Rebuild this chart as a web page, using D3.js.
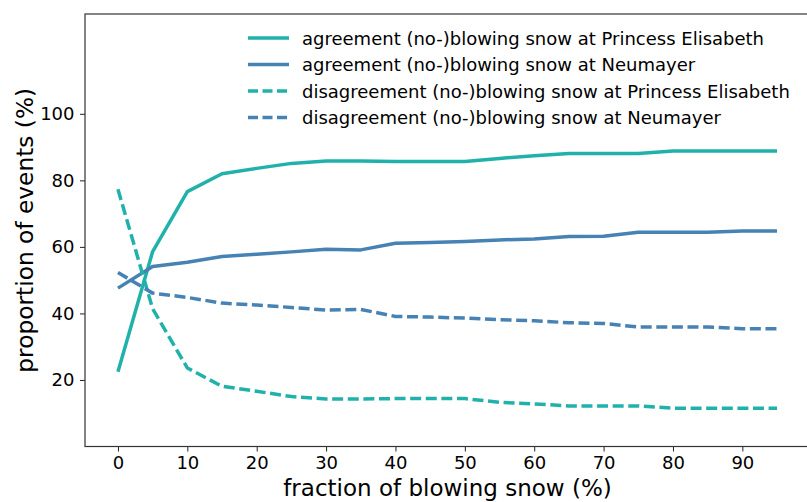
<!DOCTYPE html>
<html>
<head>
<meta charset="utf-8">
<script src="https://cdn.jsdelivr.net/npm/d3@7/dist/d3.min.js"></script>
<style>
  html, body { margin: 0; padding: 0; background: #fff; }
  svg text { font-family: "DejaVu Sans", sans-serif; fill: #000; }
</style>
</head>
<body>
<svg id="chart" width="807" height="502"></svg>
<script>
// Fraction of blowing snow thresholds (%)
const fractions = [0, 5, 10, 15, 20, 25, 30, 35, 40, 45, 50, 55, 60, 65, 70, 75, 80, 85, 90, 95];

// Proportion of events (%) per threshold
const agreePE = [22.5, 58.6, 76.6, 82.0, 83.6, 85.1, 85.8, 85.8, 85.7, 85.7, 85.7, 86.6, 87.4, 88.1, 88.1, 88.1, 88.8, 88.8, 88.8, 88.8];
const agreeNM = [47.6, 54.1, 55.4, 57.1, 57.8, 58.5, 59.3, 59.1, 61.1, 61.3, 61.6, 62.1, 62.4, 63.1, 63.2, 64.4, 64.4, 64.4, 64.8, 64.8];
const disagreePE = [77.3, 41.4, 23.6, 18.1, 16.6, 15.0, 14.3, 14.3, 14.4, 14.4, 14.4, 13.3, 12.8, 12.2, 12.2, 12.2, 11.5, 11.5, 11.5, 11.5];
const disagreeNM = [52.3, 46.1, 44.8, 43.1, 42.5, 41.8, 41.0, 41.2, 39.1, 38.9, 38.6, 38.1, 37.8, 37.2, 37.0, 35.9, 35.9, 35.9, 35.4, 35.4];

const seriesNames = [
  "agreement (no-)blowing snow at Princess Elisabeth",
  "agreement (no-)blowing snow at Neumayer",
  "disagreement (no-)blowing snow at Princess Elisabeth",
  "disagreement (no-)blowing snow at Neumayer"
];

const xTicks = [0, 10, 20, 30, 40, 50, 60, 70, 80, 90];
const yTicks = [20, 40, 60, 80, 100];

const teal = "#20b2aa", steel = "#4682b4";
const series = [
  { name: seriesNames[0], values: agreePE, color: teal, dash: null },
  { name: seriesNames[1], values: agreeNM, color: steel, dash: null },
  { name: seriesNames[2], values: disagreePE, color: teal, dash: "11,4.6" },
  { name: seriesNames[3], values: disagreeNM, color: steel, dash: "11,4.6" }
];

const svg = d3.select("#chart");
const m = { left: 85, right: 810, top: 14, bottom: 446.5 };

const x = d3.scaleLinear().domain([-4.75, 99.75]).range([m.left, m.right]);
const y = d3.scaleLinear().domain([0, 130]).range([m.bottom, m.top]);

// Lines
const line = d3.line().x((d, i) => x(fractions[i])).y(d => y(d));
const g = svg.append("g");
series.forEach(s => {
  g.append("path")
    .attr("d", line(s.values))
    .attr("fill", "none")
    .attr("stroke", s.color)
    .attr("stroke-width", 3.5)
    .attr("stroke-linejoin", "round")
    .attr("stroke-dasharray", s.dash);
});

// Axes
const xAxis = d3.axisBottom(x).tickValues(xTicks).tickSize(5).tickPadding(5).tickFormat(d3.format("d"));
const yAxis = d3.axisLeft(y).tickValues(yTicks).tickSize(5).tickPadding(5.5).tickFormat(d3.format("d"));

const gx = svg.append("g").attr("transform", `translate(0,${m.bottom})`).call(xAxis);
const gy = svg.append("g").attr("transform", `translate(${m.left},0)`).call(yAxis);
[gx, gy].forEach(a => {
  a.select(".domain").remove();
  a.selectAll(".tick line").attr("stroke", "#222").attr("stroke-width", 1);
  a.selectAll(".tick text").attr("font-size", 18).style("font-family", "DejaVu Sans, sans-serif");
});

// Frame
svg.append("rect")
  .attr("x", m.left).attr("y", m.top)
  .attr("width", m.right - m.left).attr("height", m.bottom - m.top)
  .attr("fill", "none").attr("stroke", "#333").attr("stroke-width", 1.2);

// Axis titles
svg.append("text")
  .attr("x", (m.left + m.right) / 2).attr("y", 496)
  .attr("text-anchor", "middle").attr("font-size", 23)
  .text("fraction of blowing snow (%)");

svg.append("text")
  .attr("transform", `translate(33,${(m.top + m.bottom) / 2}) rotate(-90)`)
  .attr("text-anchor", "middle").attr("font-size", 23.3)
  .text("proportion of events (%)");

// Legend
const legend = svg.append("g");
series.forEach((s, i) => {
  const ly = 38 + i * 26.5;
  legend.append("line")
    .attr("x1", 248).attr("x2", 289).attr("y1", ly).attr("y2", ly)
    .attr("stroke", s.color).attr("stroke-width", 3.5)
    .attr("stroke-dasharray", s.dash ? "10,4.5" : null);
  legend.append("text")
    .attr("x", 302).attr("y", ly + 6.5)
    .attr("font-size", 18)
    .text(s.name);
});
</script>
</body>
</html>
